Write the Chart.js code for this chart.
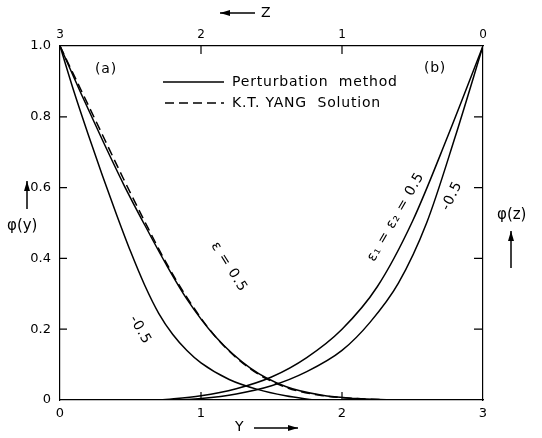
<!DOCTYPE html>
<html>
<head>
<meta charset="utf-8">
<script src="https://cdn.jsdelivr.net/npm/chart.js@4.4.1/dist/chart.umd.min.js"></script>
<style>
  html, body { margin: 0; padding: 0; background: #fff; }
  #wrap { width: 542px; height: 438px; }
</style>
</head>
<body>
<div id="wrap"><canvas id="myChart" width="542" height="438"></canvas></div>
<script>
// (a) phi(y) curves
var yPos = [0, 0.15, 0.3, 0.45, 0.6, 0.75, 0.9, 1.1, 1.35, 1.6, 1.85, 2.1, 2.35];
var phiEpsPlus = [1, 0.865, 0.735, 0.61, 0.495, 0.385, 0.285, 0.18, 0.09, 0.038, 0.014, 0.004, 0];
var phiYang = [1, 0.875, 0.75, 0.625, 0.505, 0.39, 0.29, 0.18, 0.088, 0.036, 0.013, 0.004, 0];
var yPosNeg = [0, 0.1, 0.2, 0.3, 0.4, 0.5, 0.6, 0.7, 0.8, 0.9, 1.0, 1.2, 1.4, 1.6, 1.8];
var phiEpsMinus = [1, 0.87, 0.75, 0.635, 0.525, 0.42, 0.325, 0.245, 0.185, 0.14, 0.105, 0.058, 0.03, 0.012, 0];

// (b) phi(z) curves, z runs from right to left
var zPos = [0, 0.25, 0.5, 0.75, 1.0, 1.25, 1.5, 1.75, 2.0, 2.29];
var phiZPlus = [1, 0.745, 0.505, 0.32, 0.2, 0.12, 0.065, 0.032, 0.012, 0];
var zPosNeg = [0, 0.2, 0.4, 0.6, 0.8, 1.0, 1.25, 1.5, 1.75, 2.0, 2.15];
var phiZMinus = [1, 0.74, 0.5, 0.33, 0.22, 0.14, 0.08, 0.04, 0.017, 0.004, 0];

// ticks
var phiTicks = [0, 0.2, 0.4, 0.6, 0.8, 1.0];
var phiTickLabels = ['0', '0.2', '0.4', '0.6', '0.8', '1.0'];
var yTicks = [0, 1, 2, 3];
var zTicks = [0, 1, 2, 3];

function pts(xs, ys) {
    return xs.map(function (x, i) { return { x: x, y: ys[i] }; });
}

function line(data, xAxis, dash) {
    return {
        data: data,
        xAxisID: xAxis,
        yAxisID: 'y',
        borderColor: '#000',
        borderWidth: 1.5,
        borderDash: dash || [],
        pointRadius: 0,
        fill: false,
        cubicInterpolationMode: 'monotone'
    };
}

function arrow(ctx, x1, y1, x2, y2) {
    var a = Math.atan2(y2 - y1, x2 - x1);
    ctx.beginPath();
    ctx.moveTo(x1, y1);
    ctx.lineTo(x2, y2);
    ctx.stroke();
    ctx.beginPath();
    ctx.moveTo(x2, y2);
    ctx.lineTo(x2 - 10 * Math.cos(a) + 3 * Math.sin(a), y2 - 10 * Math.sin(a) - 3 * Math.cos(a));
    ctx.lineTo(x2 - 10 * Math.cos(a) - 3 * Math.sin(a), y2 - 10 * Math.sin(a) + 3 * Math.cos(a));
    ctx.closePath();
    ctx.fill();
}

function rotText(ctx, txt, x, y, deg) {
    ctx.save();
    ctx.translate(x, y);
    ctx.rotate(deg * Math.PI / 180);
    ctx.textAlign = 'center';
    ctx.textBaseline = 'middle';
    ctx.fillText(txt, 0, 0);
    ctx.restore();
}

// ticks inside the frame, legend, labels and arrows
var decorations = {
    id: 'decorations',
    afterDraw: function (chart) {
        var ctx = chart.ctx;
        var a = chart.chartArea;
        var sx = chart.scales.x, sz = chart.scales.z, sy = chart.scales.y;
        ctx.save();
        ctx.strokeStyle = '#000';
        ctx.fillStyle = '#000';
        ctx.lineWidth = 1.2;

        // inward tick marks
        ctx.beginPath();
        phiTicks.slice(1, 5).forEach(function (v) {
            var p = sy.getPixelForValue(v);
            ctx.moveTo(a.left, p); ctx.lineTo(a.left + 7, p);
            ctx.moveTo(a.right, p); ctx.lineTo(a.right - 9, p);
        });
        yTicks.slice(1, 3).forEach(function (v) {
            var p = sx.getPixelForValue(v);
            ctx.moveTo(p, a.bottom); ctx.lineTo(p, a.bottom - 8);
        });
        zTicks.slice(1, 3).forEach(function (v) {
            var p = sz.getPixelForValue(v);
            ctx.moveTo(p, a.top); ctx.lineTo(p, a.top + 8);
        });
        ctx.stroke();

        // legend
        ctx.lineWidth = 1.5;
        ctx.beginPath();
        ctx.moveTo(163, 82); ctx.lineTo(224, 82);
        ctx.stroke();
        ctx.setLineDash([9, 5]);
        ctx.beginPath();
        ctx.moveTo(165, 103); ctx.lineTo(224, 103);
        ctx.stroke();
        ctx.setLineDash([]);
        ctx.font = '14px "DejaVu Sans"';
        ctx.letterSpacing = '0.8px';
        ctx.textAlign = 'left';
        ctx.textBaseline = 'middle';
        ctx.fillText('Perturbation  method', 232, 82);
        ctx.fillText('K.T. YANG  Solution', 232, 103);

        ctx.textAlign = 'center';
        ctx.fillText('(a)', 106, 69);
        ctx.fillText('(b)', 435, 68);

        // curve labels
        rotText(ctx, '\u03b5 = 0.5', 229, 267, 58);
        rotText(ctx, '-0.5', 140, 330, 60);
        rotText(ctx, '\u03b5\u2081 = \u03b5\u2082 = 0.5', 396, 217, -60);
        rotText(ctx, '-0.5', 452, 196, -64);
        ctx.letterSpacing = '0px';

        // axis titles with arrows
        ctx.font = '14px "DejaVu Sans"';
        ctx.textAlign = 'left';
        ctx.fillText('Z', 261, 13);
        arrow(ctx, 255, 13, 220, 13);
        ctx.fillText('Y', 235, 427);
        arrow(ctx, 254, 428, 298, 428);
        ctx.font = '15px "DejaVu Sans"';
        ctx.fillText('\u03c6(y)', 7, 226);
        arrow(ctx, 27, 209, 27, 181);
        ctx.fillText('\u03c6(z)', 497, 215);
        arrow(ctx, 511, 268, 511, 231);

        ctx.restore();
    }
};

Chart.defaults.font.family = '"DejaVu Sans"';
Chart.defaults.color = '#000';

var ctx = document.getElementById('myChart').getContext('2d');
var chart = new Chart(ctx, {
    type: 'line',
    data: {
        datasets: [
            line(pts(yPos, phiEpsPlus), 'x'),
            line(pts(yPos, phiYang), 'x', [9, 5]),
            line(pts(yPosNeg, phiEpsMinus), 'x'),
            line(pts(zPos, phiZPlus), 'z'),
            line(pts(zPosNeg, phiZMinus), 'z')
        ]
    },
    options: {
        responsive: false,
        animation: false,
        devicePixelRatio: 1,
        layout: { padding: 0 },
        plugins: {
            legend: { display: false },
            tooltip: { enabled: false }
        },
        scales: {
            x: {
                type: 'linear', position: 'bottom', min: 0, max: 3,
                afterFit: function (s) { s.height = 38; },
                afterBuildTicks: function (s) { s.ticks = yTicks.map(function (v) { return { value: v }; }); },
                ticks: { font: { size: 13 }, padding: 6, maxRotation: 0 },
                grid: { drawOnChartArea: false, drawTicks: false },
                border: { color: '#000', width: 1.2 }
            },
            z: {
                type: 'linear', position: 'top', min: 0, max: 3, reverse: true,
                afterFit: function (s) { s.height = 46; },
                afterBuildTicks: function (s) { s.ticks = zTicks.map(function (v) { return { value: v }; }); },
                ticks: { font: { size: 12 }, padding: 4, maxRotation: 0 },
                grid: { drawOnChartArea: false, drawTicks: false },
                border: { color: '#000', width: 1.2 }
            },
            y: {
                type: 'linear', position: 'left', min: 0, max: 1,
                afterFit: function (s) { s.width = 60; },
                afterBuildTicks: function (s) { s.ticks = phiTicks.map(function (v) { return { value: v }; }); },
                ticks: {
                    font: { size: 13 }, padding: 9,
                    callback: function (v) { return phiTickLabels[phiTicks.indexOf(v)]; }
                },
                grid: { drawOnChartArea: false, drawTicks: false },
                border: { color: '#000', width: 1.2 }
            },
            y2: {
                type: 'linear', position: 'right', min: 0, max: 1,
                afterFit: function (s) { s.width = 59; },
                ticks: { display: false },
                grid: { drawOnChartArea: false, drawTicks: false },
                border: { color: '#000', width: 1.2 }
            }
        }
    },
    plugins: [decorations]
});
</script>
</body>
</html>
